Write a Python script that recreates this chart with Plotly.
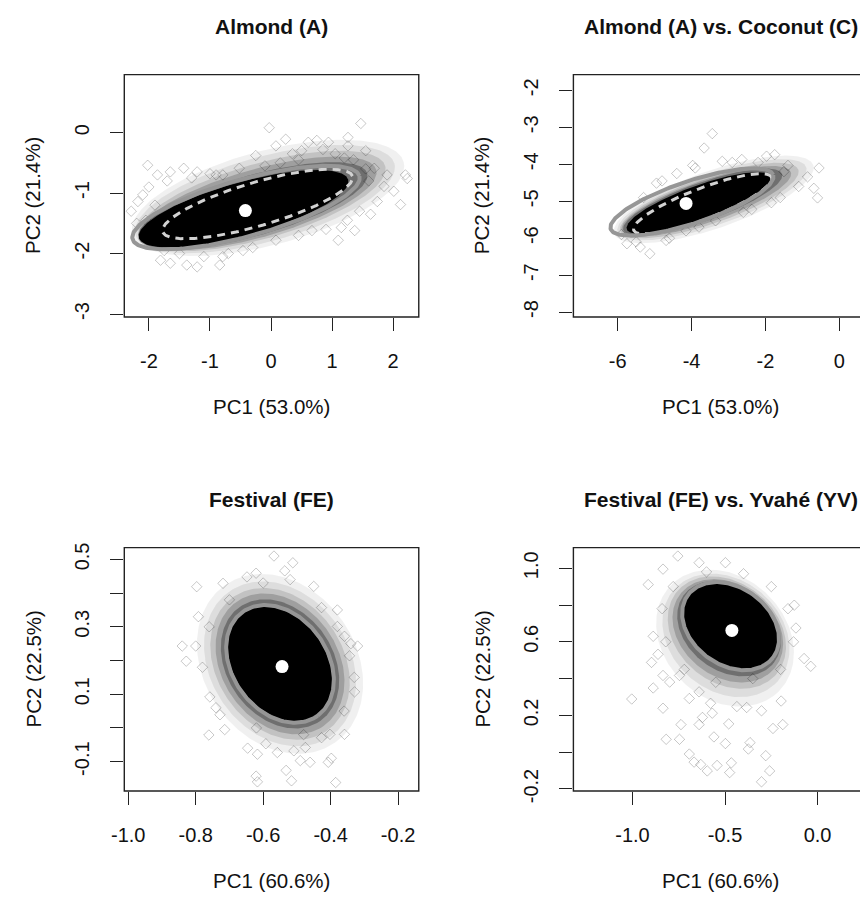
import numpy as np
import plotly.graph_objects as go

# ---------------- data ----------------
panel_titles = ["Almond (A)", "Almond (A) vs. Coconut (C)",
                "Festival (FE)", "Festival (FE) vs. Yvahé (YV)"]
x_titles = ["PC1 (53.0%)", "PC1 (53.0%)", "PC1 (60.6%)", "PC1 (60.6%)"]
y_titles = ["PC2 (21.4%)", "PC2 (21.4%)", "PC2 (22.5%)", "PC2 (22.5%)"]

# centroids (white dots)
centroid_x = [-0.42, -4.15, -0.544, -0.463]
centroid_y = [-1.29, -5.06, 0.182, 0.662]

# ellipse parameters: [cx, cy, semi-major, semi-minor, angle(deg)]
solid_ellipse = [
    [-0.41, -1.24, 1.93, 0.47, 15.7],
    [-3.99, -5.02, 2.32, 0.57, 18.4],
    [-0.55, 0.19, 0.19, 0.141, -54.0],
    [-0.47, 0.685, 0.286, 0.21, -36.4],
]
dashed_ellipse = [
    [-0.22, -1.18, 1.62, 0.36, 16.5],
    [-3.70, -5.07, 2.00, 0.42, 21.0],
    None,
    None,
]
# density of the point cloud: layers [cx, cy, a, b, angle, opacity], outer -> core
cloud_layers = [
    [[-0.05, -1.08, 2.30, 0.78, 15.0, 0.06],
     [-0.10, -1.10, 2.20, 0.70, 15.5, 0.08],
     [-0.15, -1.13, 2.10, 0.62, 16.0, 0.12],
     [-0.22, -1.17, 2.02, 0.56, 16.0, 0.18],
     [-0.30, -1.21, 1.95, 0.50, 16.0, 0.30],
     [-0.45, -1.26, 1.78, 0.44, 15.7, 1.00]],
    [[-3.40, -4.95, 2.85, 0.78, 19.0, 0.06],
     [-3.45, -4.96, 2.70, 0.70, 19.0, 0.08],
     [-3.52, -4.98, 2.55, 0.63, 19.0, 0.12],
     [-3.60, -5.00, 2.42, 0.57, 19.0, 0.18],
     [-3.70, -5.02, 2.28, 0.52, 19.5, 0.30],
     [-3.80, -5.05, 2.08, 0.47, 20.0, 1.00]],
    [[-0.55, 0.19, 0.285, 0.225, -55.0, 0.06],
     [-0.55, 0.19, 0.262, 0.205, -55.0, 0.08],
     [-0.55, 0.19, 0.242, 0.187, -55.0, 0.12],
     [-0.55, 0.19, 0.225, 0.172, -55.0, 0.18],
     [-0.55, 0.19, 0.207, 0.157, -54.5, 0.30],
     [-0.55, 0.19, 0.186, 0.136, -54.0, 1.00]],
    [[-0.500, 0.620, 0.410, 0.330, -45.0, 0.06],
     [-0.495, 0.635, 0.375, 0.300, -42.0, 0.08],
     [-0.490, 0.650, 0.350, 0.270, -40.0, 0.12],
     [-0.485, 0.660, 0.325, 0.250, -38.0, 0.18],
     [-0.478, 0.672, 0.305, 0.230, -37.0, 0.30],
     [-0.470, 0.685, 0.280, 0.203, -36.4, 1.00]],
]

# outlying / fringe points (hollow diamonds)
out_x1 = [-0.03, 1.47, 1.26, 0.24, 0.61, 0.75, 0.94, 1.26, 1.55, -0.25, 0.08, 2.20, 2.23,
          2.01, 2.12, 1.85, 1.74, 1.63, 1.37, 1.10, 1.90, 1.69, -2.02, -2.18, -2.10, -2.29,
          -1.86, -1.65, -1.43, -1.21, -1.00, -0.79, -0.52, -1.65, -1.38, -1.21, -0.84, -0.79,
          -0.46, 0.08, -1.81, 0.67, 1.15,
          0.35, 0.50, 0.85, 1.05, 1.20, 1.35, 0.45, 0.15, -0.10, 1.55, 1.60, 1.45, 1.25,
          0.90, 0.45, -2.00, -1.90, -2.05, -1.95, -1.50, -1.10, -0.70, -0.30, -1.70, -1.30,
          -0.90, -2.20, -1.75]
out_y1 = [0.08, 0.15, -0.08, -0.11, -0.16, -0.13, -0.16, -0.22, -0.30, -0.38, -0.22, -0.70,
          -0.76, -0.97, -1.19, -0.89, -1.14, -1.35, -1.62, -1.78, -0.70, -0.59, -0.54, -1.14,
          -1.03, -1.30, -0.70, -0.65, -0.59, -0.65, -0.68, -0.70, -0.59, -2.16, -2.19, -2.22,
          -2.19, -2.05, -1.95, -1.78, -2.11, -1.62, -1.57,
          -0.35, -0.30, -0.28, -0.35, -0.42, -0.45, -0.45, -0.50, -0.55, -0.60, -0.80, -1.30,
          -1.45, -1.60, -1.70, -0.90, -1.20, -1.45, -1.70, -2.00, -2.05, -2.00, -1.90, -0.80,
          -0.75, -0.70, -1.50, -1.95]
out_x2 = [-3.44, -3.66, -0.55, -0.59, -0.69, -0.86, -1.39, -1.75, -1.97, -2.64, -3.17, -3.97,
          -4.95, -5.13, -5.39, -4.69, -4.15, -3.35, -2.37, -1.84, -5.75,
          -4.80, -4.40, -3.90, -2.90, -2.20, -1.50, -1.10, -1.60, -2.60, -3.80, -4.60, -5.50,
          -5.90, -5.30]
out_y2 = [-3.17, -3.56, -4.10, -4.91, -4.65, -4.34, -4.03, -3.74, -3.78, -3.87, -3.92, -4.03,
          -4.51, -6.42, -6.24, -6.06, -5.80, -5.53, -5.22, -5.04, -6.15,
          -4.45, -4.25, -4.10, -3.95, -3.95, -4.20, -4.60, -4.90, -5.30, -5.70, -6.00, -6.10,
          -5.90, -4.90]
out_x3 = [-0.568, -0.512, -0.536, -0.797, -0.621, -0.648, -0.719, -0.792, -0.840, -0.828,
          -0.800, -0.320, -0.344, -0.427, -0.380, -0.359, -0.329, -0.359, -0.761, -0.714,
          -0.646, -0.617, -0.621, -0.617, -0.532, -0.516, -0.490, -0.461, -0.398, -0.407,
          -0.385, -0.558, -0.592, -0.509, -0.475, -0.402, -0.427, -0.758, -0.728,
          -0.700, -0.450, -0.380, -0.330, -0.360, -0.480, -0.620, -0.740, -0.780, -0.760,
          -0.600, -0.520, -0.340]
out_y3 = [0.510, 0.490, 0.466, 0.419, 0.459, 0.448, 0.429, 0.330, 0.243, 0.198, 0.243, 0.243,
          0.214, 0.357, 0.301, 0.272, 0.107, -0.019, -0.021, -0.005, -0.060, -0.078, -0.143,
          -0.160, -0.126, -0.157, -0.097, -0.102, -0.090, -0.102, -0.162, -0.073, -0.047,
          -0.068, -0.058, -0.019, -0.029, 0.092, 0.039,
          0.380, 0.420, 0.350, 0.150, 0.050, -0.020, 0.000, 0.060, 0.180, 0.300, 0.430,
          0.440, 0.250]
out_x4 = [-0.755, -0.498, -0.640, -0.835, -0.915, -0.126, -0.117, -0.073, -0.037, -1.004,
          -0.888, -0.897, -0.862, -0.888, -0.835, -0.818, -0.746, -0.738, -0.693, -0.667,
          -0.631, -0.596, -0.543, -0.466, -0.475, -0.303, -0.259, -0.280, -0.365, -0.374,
          -0.498, -0.560, -0.640, -0.622, -0.569, -0.480, -0.241, -0.188, -0.303, -0.197,
          -0.746, -0.799, -0.640, -0.693, -0.578, -0.436, -0.383, -0.835,
          -0.780, -0.600, -0.400, -0.250, -0.160, -0.130, -0.200, -0.350, -0.550, -0.720,
          -0.820, -0.840]
out_y4 = [1.066, 1.030, 1.030, 0.995, 0.911, 0.799, 0.675, 0.509, 0.467, 0.289, 0.630, 0.488,
          0.532, 0.349, 0.239, 0.070, 0.070, 0.150, -0.010, -0.054, -0.067, -0.102, -0.072,
          -0.058, -0.111, -0.161, -0.102, -0.019, 0.052, 0.017, 0.047, 0.083, 0.150, 0.189,
          0.212, 0.154, 0.129, 0.150, 0.225, 0.278, 0.417, 0.381, 0.328, 0.292, 0.266,
          0.248, 0.243, 0.417,
          0.900, 0.980, 0.970, 0.900, 0.780, 0.600, 0.450, 0.400, 0.380, 0.450, 0.600, 0.780]
outliers = [(out_x1, out_y1), (out_x2, out_y2), (out_x3, out_y3), (out_x4, out_y4)]

# axis ranges and ticks
x_ranges = [[-2.403, 2.419], [-7.2, 0.56], [-1.0117, -0.1387], [-1.319, 0.229]]
y_ranges = [[-3.049, 0.957], [-8.133, -1.575], [-0.187, 0.535], [-0.2107, 1.112]]
x_tickvals = [[-2, -1, 0, 1, 2], [-6, -4, -2, 0], [-1.0, -0.8, -0.6, -0.4, -0.2], [-1.0, -0.5, 0.0]]
x_ticktext = [["-2", "-1", "0", "1", "2"], ["-6", "-4", "-2", "0"],
              ["-1.0", "-0.8", "-0.6", "-0.4", "-0.2"], ["-1.0", "-0.5", "0.0"]]
y_tickvals = [[-3, -2, -1, 0], [-8, -7, -6, -5, -4, -3, -2],
              [-0.1, 0.0, 0.1, 0.2, 0.3, 0.4, 0.5], [-0.2, 0.0, 0.2, 0.4, 0.6, 0.8, 1.0]]
y_ticktext = [["-3", "-2", "-1", "0"], ["-8", "-7", "-6", "-5", "-4", "-3", "-2"],
              ["-0.1", "", "0.1", "", "0.3", "", "0.5"], ["-0.2", "", "0.2", "", "0.6", "", "1.0"]]

# ---------------- layout geometry (pixels) ----------------
W, H = 860, 905
box_px = [  # left, right, top, bottom
    (113, 412, 71, 318),
    (569, 868, 71, 318),
    (113, 412, 553, 801),
    (569, 868, 553, 801),
]
FONT = "Liberation Sans, Arial, Helvetica, sans-serif"


def ellipse_xy(cx, cy, a, b, ang, n=240):
    t = np.linspace(0, 2 * np.pi, n)
    th = np.radians(ang)
    x = cx + a * np.cos(t) * np.cos(th) - b * np.sin(t) * np.sin(th)
    y = cy + a * np.cos(t) * np.sin(th) + b * np.sin(t) * np.cos(th)
    return x, y


fig = go.Figure()
shapes = []
annotations = []

for i in range(4):
    xa = "x" if i == 0 else f"x{i+1}"
    ya = "y" if i == 0 else f"y{i+1}"
    ox, oy = outliers[i]
    fig.add_trace(go.Scatter(x=ox, y=oy, mode="markers",
                             marker=dict(symbol="diamond-open", size=8,
                                         color="rgba(0,0,0,0.22)", line=dict(width=1)),
                             showlegend=False, xaxis=xa, yaxis=ya))
    for (cx, cy, a, b, ang, op) in cloud_layers[i]:
        ex, ey = ellipse_xy(cx, cy, a, b, ang)
        fig.add_trace(go.Scatter(x=ex, y=ey, mode="lines", fill="toself",
                                 fillcolor=f"rgba(0,0,0,{op})", line=dict(width=0),
                                 hoverinfo="skip", showlegend=False, xaxis=xa, yaxis=ya))
    if dashed_ellipse[i] is not None:
        ex, ey = ellipse_xy(*dashed_ellipse[i])
        fig.add_trace(go.Scatter(x=ex, y=ey, mode="lines",
                                 line=dict(color="rgb(210,210,210)", width=3, dash="8px,6px"),
                                 showlegend=False, xaxis=xa, yaxis=ya))
    ex, ey = ellipse_xy(*solid_ellipse[i])
    fig.add_trace(go.Scatter(x=ex, y=ey, mode="lines",
                             line=dict(color="rgb(150,150,150)", width=4),
                             showlegend=False, xaxis=xa, yaxis=ya))
    fig.add_trace(go.Scatter(x=[centroid_x[i]], y=[centroid_y[i]], mode="markers",
                             marker=dict(symbol="circle", size=13, color="white"),
                             showlegend=False, xaxis=xa, yaxis=ya))

    l, r, t, b = box_px[i]
    xdom = [l / W, min(r, W) / W]
    ydom = [1 - b / H, 1 - t / H]
    axis_common = dict(showgrid=False, zeroline=False, showline=False,
                       ticks="outside", ticklen=13, tickwidth=1.3, tickcolor="#222",
                       tickfont=dict(family=FONT, size=20, color="#111"))
    fig.layout[("xaxis" if i == 0 else f"xaxis{i+1}")] = dict(
        domain=xdom, range=x_ranges[i], anchor=ya, tickmode="array",
        tickvals=x_tickvals[i], ticktext=x_ticktext[i], ticklabelstandoff=13, **axis_common)
    fig.layout[("yaxis" if i == 0 else f"yaxis{i+1}")] = dict(
        domain=ydom, range=y_ranges[i], anchor=xa, tickmode="array",
        tickvals=y_tickvals[i], ticktext=y_ticktext[i], tickangle=-90,
        ticklabelstandoff=13, **axis_common)

    shapes.append(dict(type="rect", xref="paper", yref="paper",
                       x0=l / W, x1=r / W, y0=1 - b / H, y1=1 - t / H,
                       line=dict(color="#222", width=1.4), layer="above"))
    cxp = (l + r) / 2 / W
    annotations.append(dict(text=f"<b>{panel_titles[i]}</b>", x=cxp, y=1 - (t - 49) / H,
                            xref="paper", yref="paper", showarrow=False,
                            xanchor="center", yanchor="middle",
                            font=dict(family=FONT, size=21, color="#111")))
    annotations.append(dict(text=x_titles[i], x=cxp, y=1 - (b + 91) / H,
                            xref="paper", yref="paper", showarrow=False,
                            xanchor="center", yanchor="middle",
                            font=dict(family=FONT, size=20.5, color="#111")))
    annotations.append(dict(text=y_titles[i], x=(l - 92.5) / W, y=1 - (t + b) / 2 / H,
                            xref="paper", yref="paper", showarrow=False, textangle=-90,
                            xanchor="center", yanchor="middle",
                            font=dict(family=FONT, size=20.5, color="#111")))

fig.update_layout(width=W, height=H, margin=dict(l=0, r=0, t=0, b=0),
                  paper_bgcolor="white", plot_bgcolor="white",
                  shapes=shapes, annotations=annotations, showlegend=False)

fig.write_html("out.html", post_script="document.body.style.margin='0';")
